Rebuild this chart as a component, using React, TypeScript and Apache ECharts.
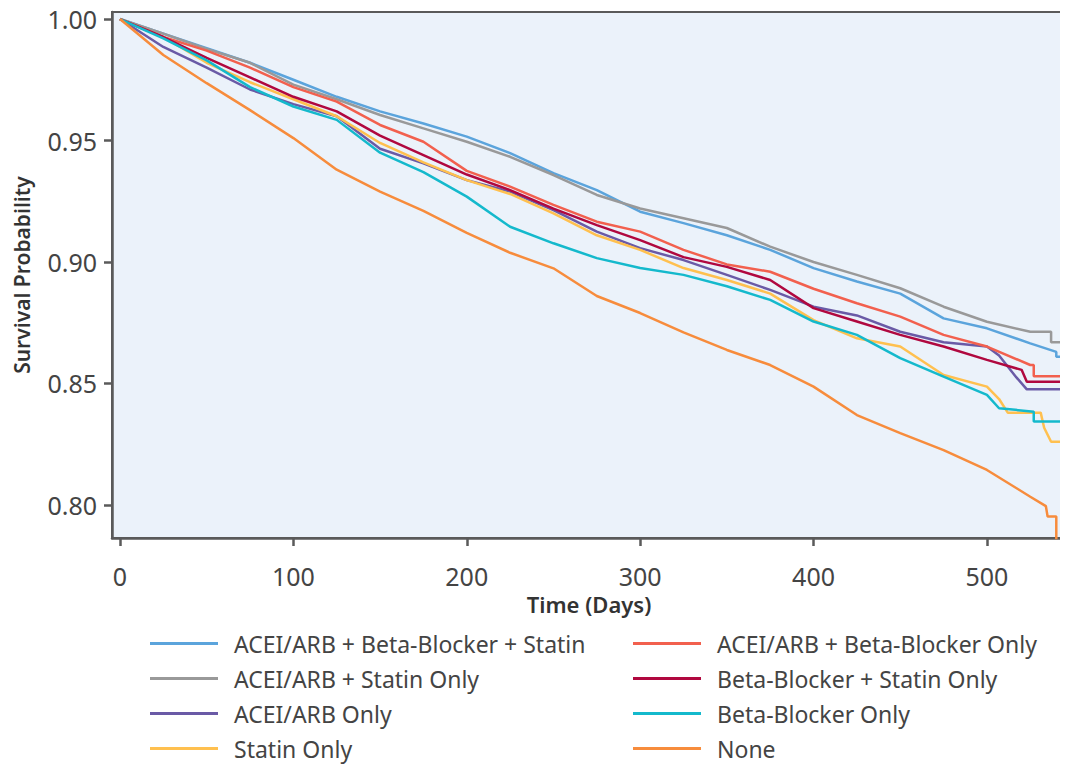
import React, { useEffect, useRef } from "react";
import * as echarts from "echarts";

const xTicks = [0, 100, 200, 300, 400, 500];
const yTicks = [0.8, 0.85, 0.9, 0.95, 1.0];

const seriesNames = [
  "ACEI/ARB + Beta-Blocker + Statin",
  "ACEI/ARB + Statin Only",
  "ACEI/ARB Only",
  "Statin Only",
  "ACEI/ARB + Beta-Blocker Only",
  "Beta-Blocker + Statin Only",
  "Beta-Blocker Only",
  "None",
];

const seriesColors = [
  "#5ba4dc",
  "#999999",
  "#6a5aa6",
  "#ffc04f",
  "#f2604e",
  "#b0083f",
  "#14b9cc",
  "#f78c3c",
];

const tripleTherapy = [
  [0, 1.0], [25, 0.994], [50, 0.988], [75, 0.982], [100, 0.975], [125, 0.968], [150, 0.962],
  [175, 0.957], [200, 0.9516], [225, 0.9448], [250, 0.9366], [275, 0.9296], [300, 0.9207],
  [325, 0.916], [350, 0.911], [375, 0.905], [400, 0.8975], [425, 0.892], [450, 0.887],
  [475, 0.8768], [500, 0.8727], [525, 0.8665], [540, 0.863], [540, 0.861], [543, 0.861],
];

const aceiStatin = [
  [0, 1.0], [25, 0.994], [50, 0.9877], [75, 0.982], [100, 0.973], [125, 0.967], [150, 0.9605],
  [175, 0.955], [200, 0.9495], [225, 0.9433], [250, 0.9358], [275, 0.9276], [300, 0.922],
  [325, 0.918], [350, 0.914], [375, 0.9063], [400, 0.9], [425, 0.8947], [450, 0.8892],
  [475, 0.8816], [500, 0.8754], [525, 0.8713], [537, 0.8713], [537, 0.867], [543, 0.867],
];

const aceiOnly = [
  [0, 1.0], [25, 0.9885], [50, 0.98], [75, 0.971], [100, 0.965], [125, 0.96], [150, 0.9466],
  [175, 0.9406], [200, 0.9337], [225, 0.929], [250, 0.9214], [275, 0.9125], [300, 0.9057],
  [325, 0.9008], [350, 0.8947], [375, 0.8885], [400, 0.8816], [425, 0.878], [450, 0.8713],
  [475, 0.867], [500, 0.8652], [507, 0.8615], [517, 0.8525], [523, 0.8476], [543, 0.8476],
];

const statinOnly = [
  [0, 1.0], [25, 0.9926], [50, 0.982], [75, 0.974], [100, 0.967], [125, 0.96], [150, 0.949],
  [175, 0.941], [200, 0.9337], [225, 0.928], [250, 0.92], [275, 0.911], [300, 0.905],
  [325, 0.8975], [350, 0.8926], [375, 0.887], [400, 0.8761], [425, 0.8686], [450, 0.8652],
  [475, 0.8535], [500, 0.8487], [507, 0.8436], [512, 0.838], [531, 0.838], [533, 0.8318],
  [537, 0.826], [543, 0.826],
];

const aceiBeta = [
  [0, 1.0], [25, 0.9926], [50, 0.987], [75, 0.98], [100, 0.972], [125, 0.966], [150, 0.9564],
  [175, 0.9495], [200, 0.9375], [225, 0.931], [250, 0.9235], [275, 0.9166], [300, 0.9125],
  [325, 0.905], [350, 0.899], [375, 0.896], [400, 0.889], [425, 0.883], [450, 0.8775],
  [475, 0.87], [500, 0.8652], [525, 0.8576], [527, 0.8576], [527, 0.853], [543, 0.853],
];

const betaStatin = [
  [0, 1.0], [25, 0.9926], [50, 0.984], [75, 0.976], [100, 0.968], [125, 0.962], [150, 0.952],
  [175, 0.944], [200, 0.936], [225, 0.9296], [250, 0.922], [275, 0.9152], [300, 0.909],
  [325, 0.902], [350, 0.898], [375, 0.8926], [400, 0.881], [425, 0.8755], [450, 0.87],
  [475, 0.8652], [500, 0.8597], [520, 0.8556], [523, 0.8507], [543, 0.8507],
];

const betaOnly = [
  [0, 1.0], [25, 0.992], [50, 0.983], [75, 0.972], [100, 0.964], [125, 0.9585], [150, 0.945],
  [175, 0.937], [200, 0.9269], [225, 0.9145], [250, 0.9077], [275, 0.9016], [300, 0.8975],
  [325, 0.8947], [350, 0.89], [375, 0.8844], [400, 0.8755], [425, 0.87], [450, 0.8604],
  [475, 0.8528], [500, 0.8453], [507, 0.8398], [527, 0.8384], [527, 0.8343], [543, 0.8343],
];

const noneGroup = [
  [0, 1.0], [25, 0.9852], [50, 0.9736], [75, 0.9625], [100, 0.951], [125, 0.938], [150, 0.929],
  [175, 0.921], [200, 0.912], [225, 0.9038], [250, 0.8974], [275, 0.886], [300, 0.879],
  [325, 0.871], [350, 0.8638], [375, 0.8576], [400, 0.8487], [425, 0.837], [450, 0.8296],
  [475, 0.8226], [500, 0.8144], [525, 0.8034], [534, 0.7995], [535, 0.7952], [540, 0.7952],
  [540, 0.78],
];

const seriesData = [
  tripleTherapy, aceiStatin, aceiOnly, statinOnly,
  aceiBeta, betaStatin, betaOnly, noneGroup,
];

const FONT = "'Noto Sans', sans-serif";
const TEXT = "#444444";

export default function App() {
  const ref = useRef<HTMLDivElement>(null);

  useEffect(() => {
    if (!ref.current) return;
    const chart = echarts.init(ref.current, undefined, { renderer: "svg" });
    const legendText = {
      color: TEXT,
      fontFamily: FONT,
      fontSize: 23,
      lineHeight: 22,
      padding: [0, 0, 0, 11],
    };
    const legendBase = {
      orient: "vertical",
      top: 632,
      height: 128,
      padding: 0,
      itemWidth: 68,
      itemHeight: 3,
      itemGap: 12,
      icon: "rect",
      textStyle: legendText,
    };
    chart.setOption({
      animation: false,
      backgroundColor: "#ffffff",
      grid: {
        left: 112,
        right: 2,
        top: 12,
        bottom: 227,
        outerBoundsMode: "none",
        containLabel: false,
        show: true,
        backgroundColor: "#ebf2fa",
        borderColor: "#5a5a5a",
        borderWidth: 2,
      },
      legend: [
        { ...legendBase, left: 150, data: seriesNames.slice(0, 4) },
        { ...legendBase, left: 633, data: seriesNames.slice(4) },
      ],
      xAxis: {
        type: "value",
        min: -4.6,
        max: 545.6,
        name: "Time (Days)",
        nameLocation: "middle",
        nameGap: 55,
        nameMoveOverlap: false,
        nameTextStyle: { color: "#333", fontFamily: FONT, fontSize: 22, fontWeight: 600 },
        axisLine: { show: true, onZero: false, lineStyle: { color: "#5a5a5a", width: 2.5 } },
        axisTick: {
          show: true,
          length: 8,
          customValues: xTicks,
          lineStyle: { color: "#5a5a5a", width: 2.5 },
        },
        axisLabel: {
          customValues: xTicks,
          color: TEXT,
          fontFamily: FONT,
          fontSize: 25,
          lineHeight: 20,
          margin: 28,
        },
        splitLine: { show: false },
      },
      yAxis: {
        type: "value",
        min: 0.7864,
        max: 1.0029,
        name: "Survival Probability",
        nameLocation: "middle",
        nameGap: 80,
        nameMoveOverlap: false,
        nameTextStyle: { color: "#333", fontFamily: FONT, fontSize: 21, fontWeight: 600 },
        axisLine: { show: true, onZero: false, lineStyle: { color: "#5a5a5a", width: 2.5 } },
        axisTick: {
          show: true,
          length: 8,
          customValues: yTicks,
          lineStyle: { color: "#5a5a5a", width: 2.5 },
        },
        axisLabel: {
          customValues: yTicks,
          color: TEXT,
          fontFamily: FONT,
          fontSize: 25,
          margin: 15,
          formatter: (v: number) => v.toFixed(2),
        },
        splitLine: { show: false },
      },
      series: seriesNames.map((name, i) => ({
        name,
        type: "line",
        data: seriesData[i],
        showSymbol: false,
        symbol: "none",
        clip: true,
        color: seriesColors[i],
        lineStyle: { color: seriesColors[i], width: 2.5 },
      })),
    });
    return () => chart.dispose();
  }, []);

  return <div ref={ref} style={{ width: 1068, height: 765, marginLeft: -8, marginTop: -8 }} />;
}
